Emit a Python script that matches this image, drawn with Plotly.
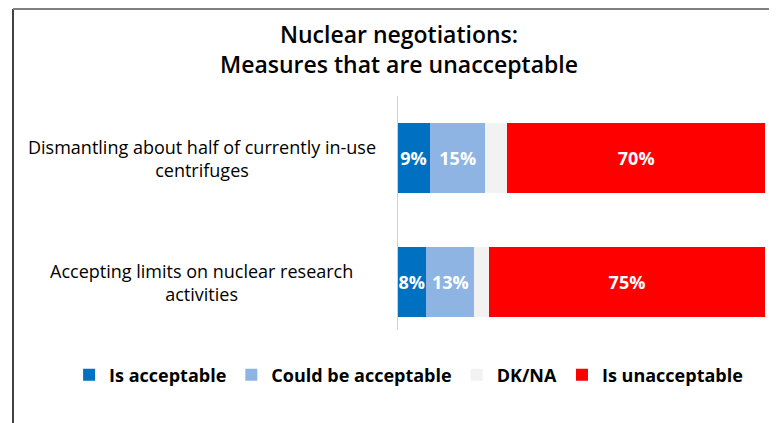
import plotly.graph_objects as go

categories = ["Dismantling about half of currently in-use<br>centrifuges",
              "Accepting limits on nuclear research<br>activities"]
series_names = ["Is acceptable", "Could be acceptable", "DK/NA", "Is unacceptable"]
is_acceptable = [9, 8]
could_be = [15, 13]
dk_na = [6, 4]
unacceptable = [70, 75]
colors = ["#0070C0", "#8EB4E3", "#F2F2F2", "#FF0000"]
show_labels = [True, True, False, True]

FONT = "Open Sans"
ypos = [0, 1]

fig = go.Figure()
for name, vals, col, lab in zip(series_names, [is_acceptable, could_be, dk_na, unacceptable], colors, show_labels):
    fig.add_trace(go.Bar(
        y=ypos, x=vals, name=name, orientation="h",
        marker=dict(color=col, line=dict(width=0)),
        text=[f"{v}%" for v in vals] if lab else None,
        textposition="inside" if lab else "none",
        insidetextanchor="middle",
        constraintext="none",
        textangle=0,
        textfont=dict(family=FONT, size=18, color="white", weight="bold"),
        width=0.565,
        hoverinfo="skip",
    ))

for yv, cat in zip(ypos, categories):
    fig.add_annotation(x=-0.53, xref="paper", y=yv, yref="y", text=cat,
                       showarrow=False, align="center", xanchor="center", yanchor="middle",
                       font=dict(family=FONT, size=18, color="#000000"))

# axis line
fig.add_shape(type="line", xref="x", yref="paper", x0=0, x1=0, y0=0.056, y1=1,
              line=dict(color="#D0D0D0", width=2))
# frame
fig.add_shape(type="line", xref="paper", yref="paper", x0=-1.0435, x1=-1.0435, y0=1.3508, y1=-0.32,
              line=dict(color="#404040", width=2))
fig.add_shape(type="line", xref="paper", yref="paper", x0=-1.0435, x1=1.04, y0=1.3508, y1=1.3508,
              line=dict(color="#808080", width=2))

fig.update_layout(
    barmode="stack",
    width=769, height=415,
    margin=dict(l=389, r=12, t=88, b=79, autoexpand=False),
    paper_bgcolor="white", plot_bgcolor="white",
    title=dict(text="Nuclear negotiations:<br>Measures that are unacceptable",
               x=391/769, xanchor="center", y=1 - 35/415, yanchor="middle",
               font=dict(family=FONT, size=23, color="#000000", weight=600)),
    xaxis=dict(range=[0, 100], visible=False, fixedrange=True),
    yaxis=dict(range=[1.5, -0.5], visible=False, fixedrange=True),
    legend=dict(orientation="h", x=-0.891, xref="paper", xanchor="left",
                y=-0.125, yref="paper", yanchor="middle",
                font=dict(family=FONT, size=18, color="#000000", weight="bold"),
                traceorder="normal", itemsizing="constant"),
    showlegend=True,
)
fig.write_html("out.html")
